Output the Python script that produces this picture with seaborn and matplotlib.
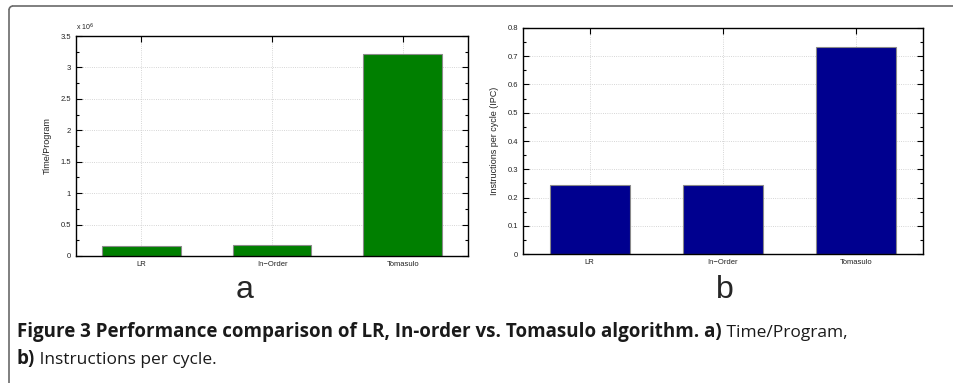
import pandas as pd
import numpy as np
import matplotlib
matplotlib.use("Agg")
import matplotlib.pyplot as plt
import matplotlib.ticker as mticker
from matplotlib.lines import Line2D
import seaborn as sns

# data
methods = ["LR", "In\u2212Order", "Tomasulo"]
time_program = [0.164e6, 0.175e6, 3.21e6]
ipc = [0.245, 0.245, 0.732]

green = "#007f00"
navy = "#00008f"

sns.set_style("white")
plt.rcParams["font.family"] = ["Liberation Sans", "DejaVu Sans"]

fig = plt.figure(figsize=(9.54, 3.83), dpi=100)
ax1 = fig.add_axes([0.0797, 0.3316, 0.4109, 0.5744])
ax2 = fig.add_axes([0.5482, 0.3368, 0.4193, 0.5901])

df_a = pd.DataFrame({"method": methods, "value": time_program})
df_b = pd.DataFrame({"method": methods, "value": ipc})

sns.barplot(data=df_a, x="method", y="value", color=green, width=0.6,
            edgecolor="#8a8a8a", linewidth=0.8, saturation=1, ax=ax1)
sns.barplot(data=df_b, x="method", y="value", color=navy, width=0.6,
            edgecolor="#8a8a8a", linewidth=0.8, saturation=1, ax=ax2)


def style(ax, ymax, step, ylabel, scale=1.0):
    ax.set_xlim(-0.5, 2.5)
    ax.set_ylim(0, ymax)
    ax.yaxis.set_major_locator(mticker.MultipleLocator(step))
    ax.yaxis.set_minor_locator(mticker.MultipleLocator(step / 2))
    ax.yaxis.set_major_formatter(mticker.FuncFormatter(lambda v, p: "%g" % round(v / scale, 6)))
    ax.set_xlabel("")
    ax.set_ylabel(ylabel, fontsize=6.5, color="#222222", labelpad=6)
    ax.tick_params(which="both", direction="in", top=True, right=True,
                   bottom=True, left=True, labelsize=5.5, labelcolor="#222222",
                   color="black", width=0.8)
    ax.tick_params(which="major", length=4)
    ax.tick_params(which="minor", length=2.5)
    ax.tick_params(axis="x", which="minor", bottom=False, top=False)
    ax.grid(True, which="major", linestyle=":", linewidth=0.6, color="#c8c8c8")
    ax.set_axisbelow(True)
    for s in ax.spines.values():
        s.set_visible(True)
        s.set_color("black")
        s.set_linewidth(1.0)


style(ax1, 3.5e6, 0.5e6, "Time/Program", scale=1e6)
style(ax2, 0.8, 0.1, "Instructions per cycle (IPC)")

ax1.text(0.0, 1.012, r"x 10$^6$", transform=ax1.transAxes, fontsize=5,
         color="#222222", ha="left", va="bottom")

# panel letters
fig.text(245 / 954, 1 - 298 / 383, "a", fontsize=23, ha="center", va="baseline")
fig.text(725 / 954, 1 - 298 / 383, "b", fontsize=23, ha="center", va="baseline")

# frame around the figure
fig.add_artist(Line2D([9 / 954, 9 / 954], [0, 1 - 10 / 383], color="#6a6a6a", lw=1.2))
fig.add_artist(Line2D([13 / 954, 1], [1 - 6 / 383, 1 - 6 / 383], color="#6a6a6a", lw=1.2))
fig.add_artist(matplotlib.patches.Arc((13 / 954, 1 - 10 / 383), 8 / 954, 8 / 383,
                                      theta1=90, theta2=180, color="#6a6a6a", lw=1.2,
                                      transform=fig.transFigure))

# caption with mixed bold / regular runs
cap_font = ["Open Sans", "DejaVu Sans"]
renderer = fig.canvas.get_renderer()


def run(parts, x0, y):
    x = x0
    for txt, weight in parts:
        size = 13.5 if weight == "bold" else 12.5
        t = fig.text(x, y, txt, fontsize=size, fontweight=weight,
                     family=cap_font, va="baseline", ha="left", color="#1a1a1a")
        bb = t.get_window_extent(renderer=renderer)
        x = bb.x1 / fig.bbox.width


run([("Figure 3 Performance comparison of LR, In-order vs. Tomasulo algorithm. a)", "bold"),
     (" Time/Program,", "normal")], 17 / 954, 1 - 337 / 383)
run([("b)", "bold"), (" Instructions per cycle.", "normal")], 17 / 954, 1 - 364 / 383)

fig.savefig("out.png", dpi=100)
